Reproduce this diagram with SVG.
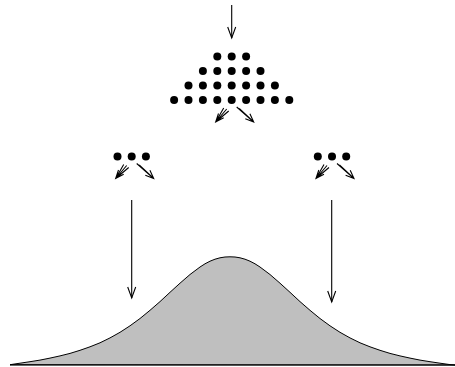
<svg xmlns="http://www.w3.org/2000/svg" xmlns:xlink="http://www.w3.org/1999/xlink" width="455" height="367" viewBox="0 0 455 367">
<style>
.ln{stroke:#000;stroke-width:1.1;fill:none}
.dot{fill:#000}
.curve{fill:#bfbfbf;stroke:#000;stroke-width:1;stroke-linejoin:round}
</style>
<defs>
<marker id="vh" markerUnits="userSpaceOnUse" markerWidth="14" markerHeight="12" viewBox="-12 -6 14 12" refX="0" refY="0" orient="auto">
<path d="M-11,-4 L0,0 L-11,4" fill="none" stroke="#000" stroke-width="1.1"/>
</marker>
<g id="fans" class="ln">
<path d="M-8,8 L-16,22 M-5,9 L-16,22 M-3,11 L-16,22 M-8,17.8 L-16,22 L-13.2,13.5"/>
<path d="M5,7 L22,22 M7.5,8.5 L22,22 M9.5,10.5 L22,22 M18.2,13.8 L22,22 L13.6,18.8"/>
</g>
</defs>
<g id="distribution">
<path class="curve" d="M10,364.7 L20,363.2 30,361.7 40,360.1 50,358.1 60,355.9 70,353.4 80,350.3 90,346.8 100,342.8 110,337.9 120,332.3 130,325.8 140,318.5 150,310.3 160,301.6 170,292.3 180,283.2 190,274.5 200,267.0 205,263.8 210,261.2 215,259.2 220,257.8 225,257.0 230,256.8 235,257.0 240,257.8 245,259.2 250,261.2 255,263.8 260,267.0 270,274.5 280,283.2 290,292.3 300,301.6 310,310.3 320,318.5 330,325.8 340,332.3 350,337.9 360,342.8 370,346.8 380,350.3 390,353.4 400,355.9 410,358.1 420,360.1 430,361.7 440,363.2 450,364.6 455,365 Z"/>
<line class="ln" x1="10" y1="365" x2="455" y2="365"/>
</g>
<g id="main-triangle" class="dot">
<circle cx="217.3" cy="56.5" r="4"/><circle cx="231.7" cy="56.5" r="4"/><circle cx="246.1" cy="56.5" r="4"/>
<circle cx="202.9" cy="71" r="4"/><circle cx="217.3" cy="71" r="4"/><circle cx="231.7" cy="71" r="4"/><circle cx="246.1" cy="71" r="4"/><circle cx="260.5" cy="71" r="4"/>
<circle cx="188.5" cy="85.5" r="4"/><circle cx="202.9" cy="85.5" r="4"/><circle cx="217.3" cy="85.5" r="4"/><circle cx="231.7" cy="85.5" r="4"/><circle cx="246.1" cy="85.5" r="4"/><circle cx="260.5" cy="85.5" r="4"/><circle cx="274.9" cy="85.5" r="4"/>
<circle cx="174.1" cy="100" r="4"/><circle cx="188.5" cy="100" r="4"/><circle cx="202.9" cy="100" r="4"/><circle cx="217.3" cy="100" r="4"/><circle cx="231.7" cy="100" r="4"/><circle cx="246.1" cy="100" r="4"/><circle cx="260.5" cy="100" r="4"/><circle cx="274.9" cy="100" r="4"/><circle cx="289.3" cy="100" r="4"/>
</g>
<g id="left-triangle" class="dot">
<circle cx="117.5" cy="156.5" r="4"/><circle cx="131.7" cy="156.5" r="4"/><circle cx="145.9" cy="156.5" r="4"/>
</g>
<g id="right-triangle" class="dot">
<circle cx="317.8" cy="156.5" r="4"/><circle cx="332" cy="156.5" r="4"/><circle cx="346.2" cy="156.5" r="4"/>
</g>
<g id="connectors">
<line class="ln" x1="231.7" y1="5" x2="231.7" y2="38" marker-end="url(#vh)"/>
<use xlink:href="#fans" href="#fans" x="231.7" y="100"/>
<use xlink:href="#fans" href="#fans" x="131.7" y="156.5"/>
<use xlink:href="#fans" href="#fans" x="332" y="156.5"/>
<line class="ln" x1="131.7" y1="200" x2="131.7" y2="298" marker-end="url(#vh)"/>
<line class="ln" x1="331.7" y1="200" x2="331.7" y2="302" marker-end="url(#vh)"/>
</g>
</svg>
